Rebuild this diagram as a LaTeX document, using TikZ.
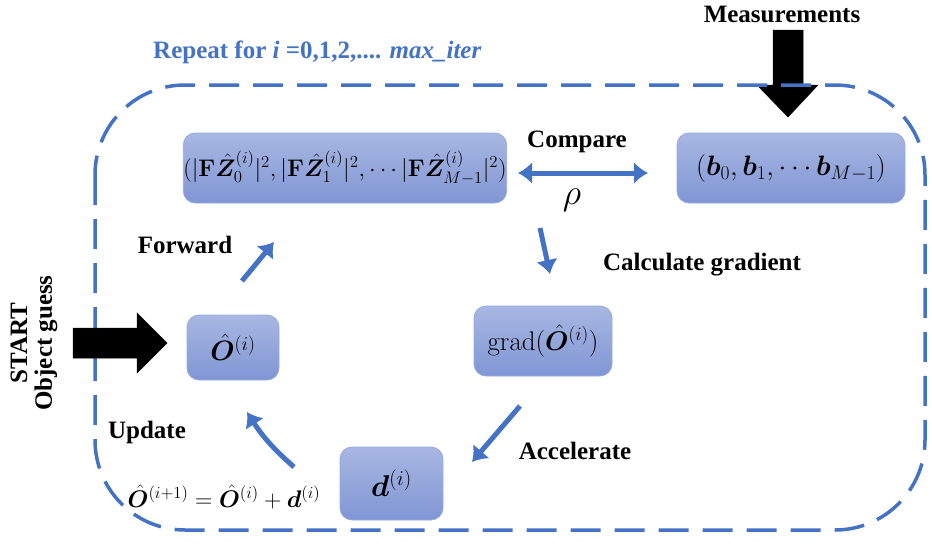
\RequirePackage{fix-cm}
\documentclass[tikz,border=0pt]{standalone}
\usepackage{amsmath,bm}
\usepackage[no-math]{fontspec}
\newfontfamily\labfont{Liberation Serif}
\usetikzlibrary{arrows.meta,shapes.geometric}
\definecolor{myblue}{RGB}{68,114,196}
\definecolor{boxtop}{RGB}{168,183,226}
\definecolor{boxbot}{RGB}{128,150,212}
\definecolor{boxline}{RGB}{150,172,222}
\tikzset{
  x=1pt,y=-1pt,
  mbox/.style={draw=boxline,line width=0.8pt,rounded corners=12pt,top color=boxtop,bottom color=boxbot,
     inner sep=0pt,font=\fontsize{24}{29}\selectfont},
  lab/.style={font=\labfont\bfseries\fontsize{25}{29}\selectfont,text=black,inner sep=0pt},
  barrow/.style={draw=myblue,line width=5pt,-{Latex[length=14pt,width=22pt]}},
  border/.style={draw=myblue,line width=3.5pt,dash pattern=on 30pt off 14pt,rounded corners=90pt},
  blk/.style={fill=black,draw=black,line width=0.5pt}
}
\begin{document}
\begin{tikzpicture}
\useasboundingbox (0,0) rectangle (932,546);
% measurements block arrow
\path[blk] (773,30) -- (803,30) -- (803,85) -- (818,85) -- (788,117) -- (757,85) -- (773,85) -- cycle;
% dashed loop
\draw[border] (95,85) rectangle (925,530);
% start block arrow
\path[blk] (73,328) -- (137,328) -- (137,313) -- (167,343) -- (137,373) -- (137,358) -- (73,358) -- cycle;
% boxes
\node[mbox,minimum width=316pt,minimum height=70pt] (F) at (345,168)
  {$(|\mathbf{F}\hat{\bm Z}_0^{(i)}|^2,|\mathbf{F}\hat{\bm Z}_1^{(i)}|^2,\cdots|\mathbf{F}\hat{\bm Z}_{M-1}^{(i)}|^2)$};
\node[mbox,minimum width=228pt,minimum height=70pt,font=\fontsize{28}{32}\selectfont] (B) at (791,168)
  {$(\bm b_0,\bm b_1,\cdots\bm b_{M-1})$};
\node[mbox,minimum width=92pt,minimum height=65pt,font=\fontsize{28}{32}\selectfont] (O) at (233,347.5)
  {$\hat{\bm O}^{(i)}$};
\node[mbox,minimum width=138pt,minimum height=70pt,font=\fontsize{27}{31}\selectfont] (G) at (543,341)
  {$\mathrm{grad}(\hat{\bm O}^{(i)})$};
\node[mbox,minimum width=103pt,minimum height=73pt,font=\fontsize{30}{34}\selectfont] (D) at (391.5,483.5)
  {$\bm d^{(i)}$};
% labels
\node[lab] (meas) at (782,14) {Measurements};
\node[lab,text=myblue,anchor=west] (rep) at (153,52) {Repeat for \textit{i} =0,1,2,.... \textit{max\_iter}};
\node[lab] (cmp) at (577,142) {Compare};
\node[font=\fontsize{36}{40}\selectfont,inner sep=0pt] (rho) at (572,200) {$\rho$};
\node[lab] (fwd) at (185,245) {Forward};
\node[lab] (calc) at (702,265) {Calculate gradient};
\node[lab] (acc) at (575,451) {Accelerate};
\node[lab] (upd) at (147,432) {Update};
\node[font=\fontsize{24}{28}\selectfont,inner sep=0pt] (eq) at (224,497)
  {$\hat{\bm O}^{(i+1)}=\hat{\bm O}^{(i)}+\bm d^{(i)}$};
\node[lab,rotate=90] (start) at (19,343) {START};
\node[lab,rotate=90] (obj) at (46,343) {Object guess};
% connectors
\coordinate (c1) at (518,173);
\coordinate (c2) at (648,173);
\draw[barrow,{Latex[length=14pt,width=22pt]}-{Latex[length=14pt,width=22pt]}] (c1) -- (c2);
\coordinate (f1) at (242,281);
\coordinate (f2) at (274,242);
\draw[barrow] (f1) -- (f2);
\coordinate (g1) at (540,228);
\coordinate (g2) at (550,274);
\draw[barrow] (g1) -- (g2);
\coordinate (a1) at (520,406);
\coordinate (a2) at (472,462);
\draw[barrow] (a1) -- (a2);
\coordinate (u1) at (294,467);
\coordinate (u2) at (247,412);
\draw[barrow] (u1) to[bend left=8] (u2);
\end{tikzpicture}
\end{document}
